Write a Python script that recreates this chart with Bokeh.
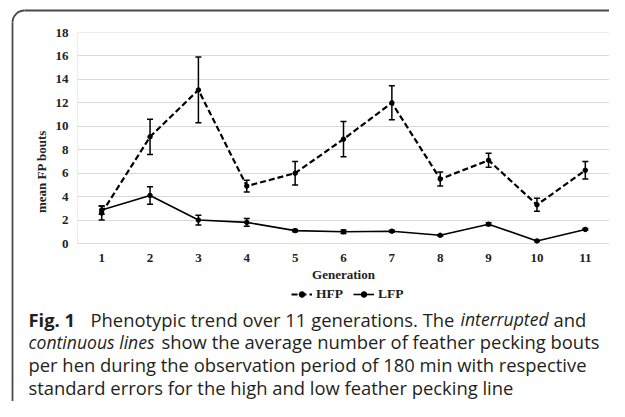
import math
from bokeh.plotting import figure
from bokeh.models import (ColumnDataSource, Whisker, TeeHead, Range1d, FixedTicker,
                          Legend, LegendItem)
from bokeh.core.properties import value
from bokeh.embed import file_html
from bokeh.resources import INLINE

# ---- data ----
generations = [1, 2, 3, 4, 5, 6, 7, 8, 9, 10, 11]
hfp_mean = [2.6, 9.1, 13.1, 4.9, 6.0, 8.9, 12.0, 5.5, 7.1, 3.3, 6.25]
hfp_se = [0.6, 1.5, 2.8, 0.5, 1.0, 1.5, 1.45, 0.6, 0.6, 0.55, 0.75]
lfp_mean = [2.85, 4.1, 2.0, 1.8, 1.1, 1.0, 1.05, 0.7, 1.65, 0.22, 1.2]
lfp_se = [0.35, 0.75, 0.42, 0.33, 0.1, 0.15, 0.08, 0.05, 0.12, 0.05, 0.08]
y_ticks = [0, 2, 4, 6, 8, 10, 12, 14, 16, 18]
series_names = ["HFP", "LFP"]
x_title = "Generation"
y_title = "mean FP bouts"

# caption segments
caption_texts = ["Fig. 1", "Phenotypic trend over 11 generations. The", "interrupted", "and",
                 "continuous lines", "show the average number of feather pecking bouts",
                 "per hen during the observation period of 180 min with respective",
                 "standard errors for the high and low feather pecking line"]
caption_styles = ["bold", "normal", "italic", "normal", "italic", "normal", "normal", "normal"]
caption_lines = [0, 0, 0, 0, 1, 1, 2, 3]
# caption layout in canvas pixels (from top-left)
caption_x = [28, 90, 460, 553, 28, 161, 28, 28]
caption_baselines = [318.5, 341.3, 364.1, 386.9]
caption_sizes = {"bold": "18.4px", "normal": "18.4px", "italic": "17.6px"}

SERIF = "Liberation Serif"
W, H = 609, 401
X0, X1 = 0.5, 11.5
YMIN, YMAX = 0, 18
ML, MR, MT = 77, 0, 32
PLOT_BOTTOM = 243          # canvas pixel of y = 0
FRAME_BOTTOM = 310         # frame extends below the axis to hold the legend
MB = H - FRAME_BOTTOM
FW = W - ML - MR
FH = FRAME_BOTTOM - MT
PPU = (PLOT_BOTTOM - MT) / (YMAX - YMIN)
Y0 = YMAX - FH / PPU


def dx(px):
    # canvas pixel -> data x
    return X0 + (px - ML) * (X1 - X0) / FW


def dy(py):
    return YMAX - (py - MT) / PPU


p = figure(width=W, height=H, output_backend="svg", toolbar_location=None,
           x_range=Range1d(X0, X1), y_range=Range1d(Y0, YMAX),
           min_border_left=ML, min_border_right=MR, min_border_top=MT,
           min_border_bottom=MB, background_fill_color="white",
           border_fill_color="white")
p.outline_line_color = None
p.xgrid.grid_line_color = None
p.ygrid.grid_line_color = "#d9d9d9"
p.ygrid.grid_line_width = 1

for ax in (p.xaxis[0], p.yaxis[0]):
    ax.axis_line_color = None
    ax.major_tick_line_color = None
    ax.minor_tick_line_color = None
    ax.major_tick_out = 0
    ax.major_tick_in = 0
    ax.major_label_text_font = SERIF
    ax.major_label_text_font_style = "bold"
    ax.major_label_text_font_size = "13px"
    ax.major_label_text_color = "#222222"
    ax.axis_label_text_font = SERIF
    ax.axis_label_text_font_style = "bold"
    ax.axis_label_text_font_size = "13px"
    ax.axis_label_text_color = "#222222"

p.xaxis.ticker = FixedTicker(ticks=generations)
p.yaxis.ticker = FixedTicker(ticks=y_ticks)
p.yaxis.bounds = (YMIN, YMAX)
p.xaxis.fixed_location = YMIN
p.xaxis.axis_label = x_title
p.yaxis.axis_label = y_title
p.xaxis.major_label_standoff = 10
p.xaxis.axis_label_standoff = 2
p.yaxis.major_label_standoff = 9
p.yaxis.axis_label_standoff = 4

# light plot-area border
p.quad(left=[X0], right=[X1], bottom=[YMIN], top=[YMAX], fill_color=None,
       line_color="#dcdcdc", line_width=1)

src_h = ColumnDataSource(dict(x=generations, y=hfp_mean,
                              up=[m + s for m, s in zip(hfp_mean, hfp_se)],
                              lo=[m - s for m, s in zip(hfp_mean, hfp_se)]))
src_l = ColumnDataSource(dict(x=generations, y=lfp_mean,
                              up=[m + s for m, s in zip(lfp_mean, lfp_se)],
                              lo=[m - s for m, s in zip(lfp_mean, lfp_se)]))

for src in (src_h, src_l):
    w = Whisker(base="x", upper="up", lower="lo", source=src,
                line_color="black", line_width=1.5,
                upper_head=TeeHead(size=6, line_color="black", line_width=1.5),
                lower_head=TeeHead(size=6, line_color="black", line_width=1.5))
    p.add_layout(w)

lh = p.line("x", "y", source=src_h, line_color="black", line_width=2.2,
            line_dash="6 3")
sh = p.scatter("x", "y", source=src_h, size=4.5, color="black")
ll = p.line("x", "y", source=src_l, line_color="black", line_width=1.6)
sl = p.scatter("x", "y", source=src_l, size=4.5, color="black")

legend = Legend(items=[LegendItem(label=series_names[0], renderers=[lh, sh]),
                       LegendItem(label=series_names[1], renderers=[ll, sl])],
                orientation="horizontal", location=(291 - ML, FRAME_BOTTOM - 302),
                padding=0, margin=0, spacing=10, label_standoff=4,
                glyph_width=21, glyph_height=14, label_height=14,
                border_line_color=None, background_fill_alpha=0,
                label_text_font=SERIF, label_text_font_style="bold",
                label_text_font_size="13.5px", label_text_color="#222222")
p.add_layout(legend, "center")

# ---- caption (drawn on the overlay level so it can sit outside the plot area) ----
for style in ("bold", "normal", "italic"):
    idx = [i for i, s in enumerate(caption_styles) if s == style]
    cs = ColumnDataSource(dict(x=[dx(caption_x[i]) for i in idx],
                               y=[dy(caption_baselines[caption_lines[i]]) for i in idx],
                               t=[caption_texts[i] for i in idx]))
    p.text("x", "y", text="t", source=cs, text_font=value("Open Sans"),
           text_font_size=caption_sizes[style], text_font_style=style,
           text_color="#231f20", text_baseline="alphabetic", text_align="left",
           level="overlay")

# ---- frame line around the figure: top and left edges with a rounded corner ----
BX, BY, R = 12, 10, 12
BORDER = "#4a4a4a"
p.segment(x0=[dx(BX + R), dx(BX)], y0=[dy(BY), dy(BY + R)],
          x1=[dx(W + 5), dx(BX)], y1=[dy(BY), dy(H + 5)],
          line_color=BORDER, line_width=1.8, level="overlay")
p.arc(x=[dx(BX + R)], y=[dy(BY + R)], radius=R, radius_units="screen",
      start_angle=math.pi / 2, end_angle=math.pi, direction="anticlock",
      line_color=BORDER, line_width=1.8, level="overlay")

open("out.html", "w").write(file_html(p, INLINE))
